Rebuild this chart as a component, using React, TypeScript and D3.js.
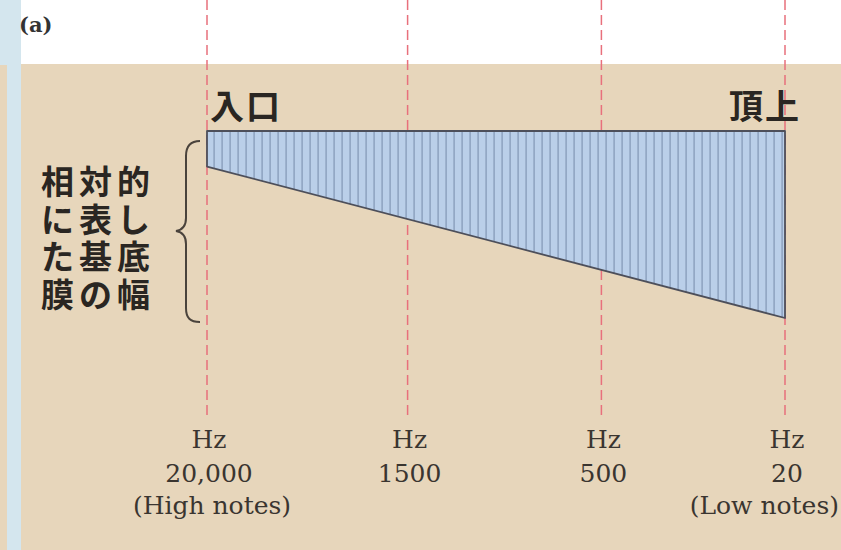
import React from "react";
import * as d3 from "d3";

// Positions along the cochlea (mm from base) for each marked frequency
const cochleaPosition = [0, 11.8, 23.2, 34];
const freqLabels = ["20,000", "1500", "500", "20"];
const noteLabels = ["(High notes)", "", "", "(Low notes)"];
// Relative basilar-membrane width at base and apex
const membranePos = [0, 34];
const membraneWidth = [0.19, 1.0];
const sideLabel = ["相対的", "に表し", "た基底", "膜の幅"];
const endLabels = ["入口", "頂上"];

const W = 841;
const H = 550;

export default function App() {
  const x = d3.scaleLinear().domain([0, 34]).range([207, 785]);
  const w = d3.scaleLinear().domain([0, 1]).range([0, 187]);
  const top = 131;

  const data = membranePos.map((p, i) => ({ p, v: membraneWidth[i] }));
  const area = d3
    .area<{ p: number; v: number }>()
    .x((d) => x(d.p))
    .y0(() => top)
    .y1((d) => top + w(d.v));
  const trap = area(data) || "";

  const brace = d3.path();
  brace.moveTo(200, 141);
  brace.bezierCurveTo(190, 141, 186, 146, 186, 156);
  brace.lineTo(186, 218);
  brace.bezierCurveTo(186, 226, 182, 230, 176, 231);
  brace.bezierCurveTo(182, 232, 186, 236, 186, 244);
  brace.lineTo(186, 308);
  brace.bezierCurveTo(186, 318, 190, 322, 200, 322);

  const serif = "'DejaVu Serif', 'Liberation Serif', serif";
  const cjk = "'Noto Sans CJK JP', 'Noto Sans CJK SC', sans-serif";
  const textCol = "#3a3530";

  return (
    <svg
      width={W}
      height={H}
      style={{ position: "absolute", left: 0, top: 0, display: "block" }}
    >
      <defs>
        <pattern id="stripes" patternUnits="userSpaceOnUse" width={8} height={10} x={207}>
          <rect width={8} height={10} fill="#bacfe9" />
          <rect x={6.4} width={1.4} height={10} fill="#8a9fbd" />
        </pattern>
      </defs>
      <rect x={0} y={0} width={W} height={H} fill="#ffffff" />
      <rect x={21} y={64} width={W - 21} height={H - 64} fill="#e7d6bb" />
      <rect x={0} y={0} width={21} height={H} fill="#d4e6ee" />
      <rect x={0} y={65} width={7} height={H - 65} fill="#e7d6bb" />

      <text x={19} y={32} fontFamily={serif} fontWeight="bold" fontSize={21} fill="#333">
        (a)
      </text>

      {cochleaPosition.map((p, i) => (
        <line
          key={"l" + i}
          x1={x(p)}
          x2={x(p)}
          y1={0}
          y2={418}
          stroke="#e8707c"
          strokeWidth={1.5}
          strokeDasharray="10 5"
        />
      ))}

      <path d={trap} fill="url(#stripes)" stroke="#4d4f5a" strokeWidth={1.8} strokeLinejoin="round" />

      <text x={x(0) + 3} y={119} fontFamily={cjk} fontWeight="bold" fontSize={34} letterSpacing={2} fill="#2a2622">
        {endLabels[0]}
      </text>
      <text x={x(34) + 16} y={119} textAnchor="end" fontFamily={cjk} fontWeight="bold" fontSize={34} letterSpacing={2} fill="#2a2622">
        {endLabels[1]}
      </text>

      <text
        fontFamily={cjk}
        fontWeight="bold"
        fontSize={33}
        letterSpacing={5}
        fill="#2a2622"
      >
        {sideLabel.map((s, i) => (
          <tspan key={"s" + i} x={41} y={194 + i * 37.5}>
            {s}
          </tspan>
        ))}
      </text>

      <path d={brace.toString()} fill="none" stroke="#4a433c" strokeWidth={2} />

      {cochleaPosition.map((p, i) => (
        <g key={"t" + i} fontFamily={serif} fontSize={25} fill={textCol} textAnchor="middle">
          <text x={x(p) + 2} y={448}>Hz</text>
          <text x={x(p) + 2} y={482}>{freqLabels[i]}</text>
          {noteLabels[i] && (
            <text
              x={i === cochleaPosition.length - 1 ? 839 : x(p) + 5}
              y={514}
              textAnchor={i === cochleaPosition.length - 1 ? "end" : "middle"}
            >
              {noteLabels[i]}
            </text>
          )}
        </g>
      ))}
    </svg>
  );
}
